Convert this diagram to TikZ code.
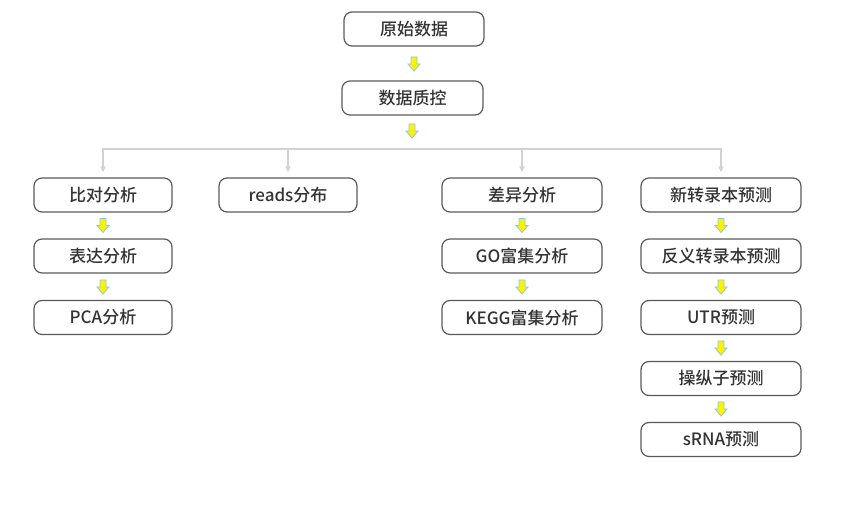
\documentclass[tikz,border=0pt]{standalone}
\usepackage{fontspec}
\setmainfont{Noto Sans CJK SC}[UprightFont={* Medium}]
\usetikzlibrary{arrows.meta}
\definecolor{boxline}{HTML}{5A5A5A}
\definecolor{txt}{HTML}{333333}
\definecolor{conn}{HTML}{D2D2D2}
\definecolor{yel}{HTML}{FFF200}
\definecolor{yelline}{HTML}{86C8E8}
\tikzset{
  box/.style={draw=boxline, line width=1.2pt, rounded corners=8pt, minimum height=34pt,
    inner sep=0pt, font=\fontsize{17pt}{20pt}\selectfont, text=txt},
  narrow/.style={box, minimum width=138pt},
  wide/.style={box, minimum width=160pt},
  top/.style={box, minimum width=140pt},
  yshape/.style={fill=yel, draw=yelline, line width=0.8pt, line join=miter},
  gline/.style={draw=conn, line width=1.3pt, -{Triangle[length=6pt,width=5pt]}, shorten >=5pt}
}
\newcommand\myyarrow[3]{%
  \coordinate (#1) at (#2,#3);
  \draw[yshape, shift={(#1)}] (-3,-7) -- (3,-7) -- (3,0) -- (6,0) -- (0,7) -- (-6,0) -- (-3,0) -- cycle;}
\begin{document}
\begin{tikzpicture}[x=1pt,y=-1pt]
\useasboundingbox (0,0) rectangle (860,521);
% top
\node[top] (raw) at (414,29) {原始数据};
\node[top, minimum width=141pt] (qc) at (412.5,98) {数据质控};
\myyarrow{ya1}{414}{64}
\myyarrow{ya2}{412}{131}
% row 1
\node[narrow] (bd) at (103,195) {比对分析};
\node[narrow] (rd) at (288,195) {reads分布};
\node[wide] (cy) at (522,195) {差异分析};
\node[wide] (xz) at (721,195) {新转录本预测};
% row 2
\node[narrow] (bda) at (103,256) {表达分析};
\node[wide] (go) at (522,256) {GO富集分析};
\node[wide] (fy) at (721,256) {反义转录本预测};
% row 3
\node[narrow] (pca) at (103,317.5) {PCA分析};
\node[wide] (kegg) at (522,317.5) {KEGG富集分析};
\node[wide] (utr) at (721,317.5) {UTR预测};
% row 4,5
\node[wide] (czz) at (721,378.5) {操纵子预测};
\node[wide] (srna) at (721,439.5) {sRNA预测};
% yellow arrows in columns
\myyarrow{l1}{103}{225.5}
\myyarrow{l2}{103}{287}
\myyarrow{m1}{522}{225.5}
\myyarrow{m2}{522}{287}
\myyarrow{r1}{721}{225.5}
\myyarrow{r2}{721}{287}
\myyarrow{r3}{721}{348}
\myyarrow{r4}{721}{409}
% gray bus
\coordinate (bus) at (412,149);
\draw[gline] (bus) -| (bd.north);
\draw[gline] (bus) -| (rd.north);
\draw[gline] (bus) -| (cy.north);
\draw[gline] (bus) -| (xz.north);
\end{tikzpicture}
\end{document}
